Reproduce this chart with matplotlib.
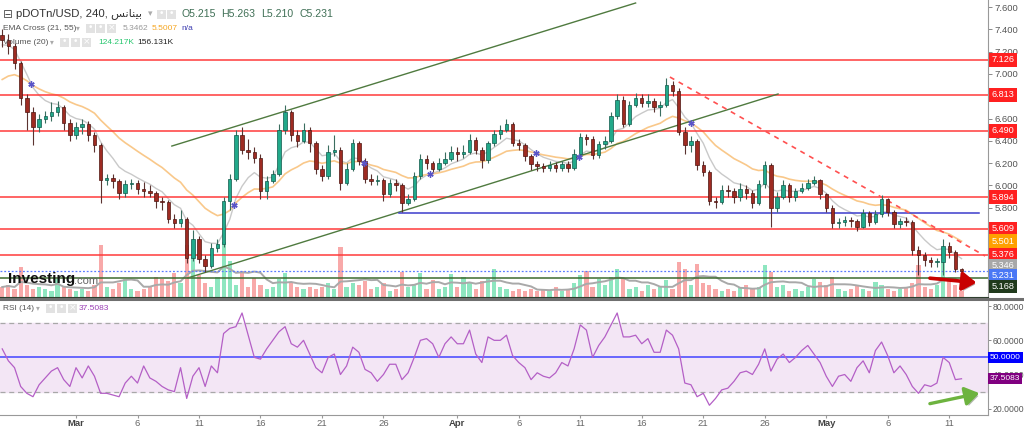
import matplotlib
matplotlib.use('Agg')
import matplotlib.pyplot as plt
import matplotlib.dates as mdates
import matplotlib.patheffects as pe
from matplotlib.patches import Rectangle, FancyArrowPatch
import numpy as np
import pandas as pd

plt.rcParams['font.family'] = ['Liberation Sans', 'DejaVu Sans']

# 12h candles, first candle 2023-02-23 00:00
first_open = 7.35
closes = [7.30, 7.25, 7.10, 6.78, 6.66, 6.52, 6.60, 6.62, 6.66, 6.70,
          6.56, 6.45, 6.52, 6.55, 6.45, 6.36, 6.05, 6.07, 6.04, 5.93,
          6.01, 6.02, 5.97, 5.95, 5.93, 5.86, 5.85, 5.70, 5.66, 5.70,
          5.35, 5.52, 5.34, 5.28, 5.44, 5.47, 5.86, 6.06, 6.45, 6.32,
          6.30, 6.25, 5.95, 6.04, 6.10, 6.50, 6.66, 6.45, 6.40, 6.50,
          6.38, 6.15, 6.08, 6.30, 6.32, 6.02, 6.15, 6.38, 6.22, 6.06,
          6.04, 6.05, 5.92, 6.02, 6.00, 5.84, 5.88, 6.08, 6.24, 6.20,
          6.15, 6.20, 6.24, 6.30, 6.28, 6.30, 6.41, 6.32, 6.23, 6.38,
          6.46, 6.50, 6.55, 6.38, 6.36, 6.26, 6.19, 6.17, 6.16, 6.18,
          6.16, 6.19, 6.16, 6.28, 6.43, 6.42, 6.27, 6.37, 6.40, 6.62,
          6.77, 6.55, 6.72, 6.78, 6.74, 6.76, 6.70, 6.72, 6.90, 6.85,
          6.48, 6.36, 6.40, 6.18, 6.12, 5.86, 5.85, 5.96, 5.95, 5.90,
          5.97, 5.93, 5.84, 6.01, 6.18, 5.80, 5.90, 6.00, 5.90, 5.95,
          5.98, 6.02, 6.05, 5.92, 5.80, 5.66, 5.67, 5.69, 5.68, 5.63,
          5.75, 5.67, 5.74, 5.88, 5.76, 5.65, 5.68, 5.67, 5.42, 5.38,
          5.33, 5.31, 5.31, 5.46, 5.40, 5.25, 5.231]
highs = [7.40, 7.36, 7.28, 7.12, 6.82, 6.70, 6.64, 6.67, 6.75, 6.76,
         6.72, 6.60, 6.57, 6.60, 6.58, 6.48, 6.38, 6.10, 6.10, 6.06,
         6.05, 6.06, 6.05, 6.03, 6.00, 5.95, 5.90, 5.87, 5.74, 5.78,
         5.72, 5.60, 5.55, 5.38, 5.48, 5.52, 5.90, 6.10, 6.50, 6.52,
         6.42, 6.34, 6.28, 6.08, 6.14, 6.55, 6.72, 6.68, 6.50, 6.56,
         6.52, 6.40, 6.18, 6.36, 6.45, 6.34, 6.20, 6.42, 6.40, 6.25,
         6.10, 6.09, 6.07, 6.06, 6.06, 6.02, 5.92, 6.12, 6.28, 6.27,
         6.22, 6.25, 6.30, 6.35, 6.34, 6.36, 6.46, 6.43, 6.34, 6.40,
         6.50, 6.54, 6.60, 6.57, 6.42, 6.38, 6.28, 6.22, 6.20, 6.22,
         6.21, 6.22, 6.22, 6.33, 6.47, 6.46, 6.44, 6.40, 6.44, 6.66,
         6.82, 6.80, 6.76, 6.83, 6.82, 6.82, 6.78, 6.76, 6.96, 6.94,
         6.87, 6.52, 6.44, 6.42, 6.22, 6.14, 5.90, 6.00, 6.00, 5.98,
         6.02, 6.00, 5.96, 6.05, 6.22, 6.20, 5.94, 6.05, 6.02, 5.98,
         6.02, 6.06, 6.08, 6.06, 5.93, 5.82, 5.71, 5.73, 5.72, 5.70,
         5.79, 5.77, 5.78, 5.91, 5.89, 5.78, 5.71, 5.72, 5.69, 5.46,
         5.40, 5.36, 5.35, 5.52, 5.49, 5.42, 5.263]
lows = [7.24, 7.18, 7.04, 6.72, 6.50, 6.36, 6.48, 6.56, 6.58, 6.62,
        6.50, 6.40, 6.42, 6.46, 6.40, 6.30, 5.84, 6.00, 5.98, 5.88,
        5.90, 5.97, 5.92, 5.90, 5.90, 5.80, 5.78, 5.66, 5.62, 5.63,
        5.30, 5.32, 5.30, 5.22, 5.26, 5.40, 5.45, 5.78, 6.04, 6.28,
        6.24, 6.20, 5.88, 5.88, 6.02, 6.08, 6.46, 6.40, 6.34, 6.38,
        6.30, 6.10, 6.04, 6.06, 6.26, 5.96, 6.00, 6.13, 6.18, 6.02,
        6.00, 6.00, 5.86, 5.90, 5.95, 5.76, 5.82, 5.86, 6.06, 6.15,
        6.12, 6.13, 6.18, 6.22, 6.22, 6.25, 6.28, 6.28, 6.16, 6.20,
        6.35, 6.42, 6.48, 6.35, 6.32, 6.22, 6.14, 6.13, 6.12, 6.13,
        6.12, 6.13, 6.12, 6.14, 6.26, 6.36, 6.24, 6.25, 6.33, 6.38,
        6.60, 6.52, 6.53, 6.70, 6.70, 6.70, 6.66, 6.62, 6.70, 6.80,
        6.45, 6.28, 6.30, 6.14, 6.08, 5.82, 5.80, 5.83, 5.90, 5.84,
        5.86, 5.88, 5.80, 5.82, 5.98, 5.63, 5.76, 5.88, 5.85, 5.86,
        5.93, 5.96, 6.00, 5.88, 5.76, 5.62, 5.62, 5.64, 5.63, 5.59,
        5.62, 5.64, 5.65, 5.72, 5.73, 5.62, 5.62, 5.64, 5.38, 5.20,
        5.28, 5.27, 5.27, 5.20, 5.35, 5.22, 5.17]
volumes_k = [200, 240, 160, 600, 240, 160, 200, 160, 120, 360,
             200, 160, 120, 160, 120, 240, 1040, 200, 160, 280,
             360, 160, 120, 160, 200, 400, 360, 320, 480, 280,
             1040, 800, 440, 280, 200, 400, 1100, 720, 240, 520,
             200, 380, 240, 160, 200, 360, 480, 280, 200, 160,
             200, 160, 200, 280, 160, 1000, 200, 280, 240, 320,
             160, 200, 280, 120, 160, 500, 200, 240, 480, 160,
             340, 160, 200, 460, 200, 400, 280, 160, 320, 360,
             560, 200, 160, 120, 160, 120, 160, 120, 160, 120,
             200, 120, 160, 280, 440, 520, 200, 360, 240, 400,
             560, 360, 160, 200, 120, 240, 160, 200, 340, 160,
             700, 560, 240, 660, 280, 240, 160, 120, 160, 120,
             200, 240, 160, 200, 640, 500, 200, 240, 120, 160,
             120, 200, 360, 300, 240, 400, 160, 120, 160, 240,
             160, 120, 300, 240, 160, 120, 160, 200, 280, 640,
             200, 160, 240, 700, 360, 240, 120]
rsi = [55, 48, 44, 33, 29, 27, 34, 38, 42, 44,
       37, 33, 44, 38, 45, 39, 29, 29, 28, 27,
       35, 39, 35, 45, 38, 36, 33, 31, 30, 44,
       26, 39, 44, 33, 45, 41, 64, 67, 68, 76,
       63, 50, 49, 55, 60, 65, 68, 58, 56, 60,
       52, 44, 41, 50, 52, 40, 45, 56, 53, 43,
       41, 36, 40, 46, 46, 37, 41, 50, 60, 61,
       58, 50, 58, 62, 58, 58, 66, 52, 47, 62,
       60, 60, 63, 51, 47, 44, 37, 41, 39, 38,
       41, 47, 45, 55, 69, 66, 50, 57, 62, 69,
       76, 62, 62, 63, 58, 61, 53, 53, 66, 63,
       55, 35, 34, 27, 29, 22, 26, 31, 32, 36,
       41, 42, 40, 46, 55, 42, 49, 52, 47, 50,
       54, 57, 52, 47, 39, 33, 39, 40, 36, 44,
       48, 41, 54, 59, 51, 41, 45, 40, 33, 29,
       34, 33, 35, 50, 47, 37, 37.5083]
ema_fast_start = 7.26
ema_slow_start = 6.95

red_levels = [7.126, 6.813, 6.490, 5.894, 5.609, 5.376]
last_price = 5.231
support_level = 5.168
blue_level = 5.75

tag_values = [7.126, 6.813, 6.490, 5.894, 5.609, 5.501, 5.376, 5.346, 5.231, 5.168]
tag_colors = ['#ff2020', '#ff2020', '#ff2020', '#ff2020', '#ff2020',
              '#ffa000', '#ff2020', '#a8a8a8', '#4a78f5', '#203a1c']

tick_dates = ['2023-03-01', '2023-03-06', '2023-03-11', '2023-03-16', '2023-03-21',
              '2023-03-26', '2023-04-01', '2023-04-06', '2023-04-11', '2023-04-16',
              '2023-04-21', '2023-04-26', '2023-05-01', '2023-05-06', '2023-05-11']
tick_text = ['Mar', '6', '11', '16', '21', '26', 'Apr', '6', '11', '16', '21', '26',
             'May', '6', '11']

W, H = 1024, 429
fig = plt.figure(figsize=(W / 100, H / 100), dpi=100, facecolor='white')


def fx(x):
    return x / W


def fy(y):
    return 1 - y / H


times = pd.date_range('2023-02-23 00:00', periods=len(closes), freq='12h')
t = mdates.date2num(times)
c = np.array(closes)
o = np.array([first_open] + closes[:-1])
hi = np.array(highs)
lo = np.array(lows)
up = c >= o

ax = fig.add_axes([0, fy(297), fx(988), 297 / H])
rax = fig.add_axes([0, fy(415), fx(988), 115 / H], sharex=ax)
vax = ax.twinx()
vax.set_zorder(0)
ax.set_zorder(1)
ax.patch.set_visible(False)

# volume
vol = np.array(volumes_k, dtype=float)
vax.bar(t, vol, width=0.34, color=np.where(up, '#8ee6c0', '#f8a9a9'), zorder=1)
vax.plot(t, pd.Series(vol).rolling(7, min_periods=1).mean(), color='#a9a9a9', lw=1.4)
vax.set_ylim(0, 5940)
vax.set_yticks([])
for s in vax.spines.values():
    s.set_visible(False)

# EMA cross
def ema(vals, span, seed):
    a = 2 / (span + 1)
    out = [seed]
    for v in vals[1:]:
        out.append(a * v + (1 - a) * out[-1])
    return np.array(out)

fast = ema(closes, 7, ema_fast_start)
slow = ema(closes, 18.4, ema_slow_start)
ax.plot(t, fast, color='#c9c9c9', lw=1.0, zorder=2)
ax.plot(t, slow, color='#f9c88a', lw=1.2, zorder=2)
diff = fast - slow
for i in np.where(np.sign(diff[1:]) != np.sign(diff[:-1]))[0]:
    f = diff[i] / (diff[i] - diff[i + 1])
    ax.plot(t[i] + f * (t[i + 1] - t[i]), fast[i] + f * (fast[i + 1] - fast[i]),
            marker=(6, 2, 0), ms=4.5, color='#5a55c8', mew=1.0, zorder=5)

# horizontal levels
for lv in red_levels:
    ax.axhline(lv, color='#ff3a3a', lw=1.1, zorder=2)
ax.axhline(last_price, color='#5a7cff', lw=0.9, ls=(0, (1.5, 1.5)), zorder=2)
ax.axhline(support_level, color='#3d6b30', lw=1.1, zorder=2)

# drawn trend lines
ax.plot(mdates.datestr2num(['2023-03-08 19:00', '2023-04-15 12:00']), [6.353, 7.636],
        color='#4f7a3f', lw=1.0, zorder=2)
ax.plot(mdates.datestr2num(['2023-03-10 02:00', '2023-04-27 02:00']), [5.17, 6.82],
        color='#4f7a3f', lw=1.0, zorder=2)
ax.plot(mdates.datestr2num(['2023-03-27 07:00', '2023-05-13 10:00']), [blue_level, blue_level],
        color='#3c3ccc', lw=1.1, zorder=2)
ax.plot(mdates.datestr2num(['2023-04-18 07:00', '2023-05-13 22:00']), [6.972, 5.367],
        color='#ff5050', lw=1.2, ls=(0, (3, 3)), zorder=2)

# candles
ax.vlines(t[up], lo[up], hi[up], color='#3b6e60', lw=0.8, zorder=3)
ax.vlines(t[~up], lo[~up], hi[~up], color='#5b3330', lw=0.8, zorder=3)
body_lo = np.minimum(o, c)
body_h = np.maximum(np.abs(c - o), 0.008)
ax.bar(t[up], body_h[up], bottom=body_lo[up], width=0.28, color='#22a98a',
       edgecolor='#10584a', lw=0.5, zorder=4)
ax.bar(t[~up], body_h[~up], bottom=body_lo[~up], width=0.28, color='#9e2b22',
       edgecolor='#4d1510', lw=0.5, zorder=4)

# red arrow
arr = FancyArrowPatch((mdates.datestr2num('2023-05-09 05:00'), 5.17),
                      (mdates.datestr2num('2023-05-13 10:30'), 5.125),
                      arrowstyle='-|>,head_length=6,head_width=4', color='#c80000',
                      lw=2.6, mutation_scale=1.4, zorder=6,
                      path_effects=[pe.SimplePatchShadow(offset=(1.5, -1.5), alpha=0.35), pe.Normal()])
ax.add_patch(arr)

ax.set_ylim(4.999, 7.663)
ax.set_xlim(mdates.datestr2num('2023-02-22 19:40'), mdates.datestr2num('2023-05-14 03:40'))
ax.yaxis.tick_right()
price_ticks = [5.8, 6.0, 6.2, 6.4, 6.6, 7.0, 7.2, 7.4, 7.6]
ax.set_yticks(price_ticks)
ax.set_yticklabels(['%.3f' % v for v in price_ticks])
ax.tick_params(axis='y', direction='out', length=3, width=0.6, color='#777',
               labelcolor='#555', labelsize=6.8, pad=2)
ax.tick_params(axis='x', bottom=False, labelbottom=False)
for k in ['top', 'left']:
    ax.spines[k].set_visible(False)
ax.spines['right'].set_color('#999')
ax.spines['bottom'].set_color('#2e3e2e')


def tag(axis, y, text, color, size=6.6, off=2.6):
    axis.annotate(text, xy=(1, y), xycoords=('axes fraction', 'data'), xytext=(off, 0),
                  textcoords='offset points', ha='left', va='center', fontsize=size,
                  color='white', annotation_clip=False, zorder=10,
                  bbox=dict(boxstyle='square,pad=0.25', fc=color, ec='none'))


prev = None
for v, col in zip(tag_values, tag_colors):
    y = v if prev is None else min(v, prev - 0.094)
    tag(ax, y, '%.3f' % v, col)
    prev = y

# RSI pane
rax.axhspan(30, 70, color='#f3e6f5', zorder=0)
rax.axhline(70, color='#a8a8a8', lw=0.9, ls=(0, (4, 3)))
rax.axhline(30, color='#a8a8a8', lw=0.9, ls=(0, (4, 3)))
rax.axhline(50, color='#5050ff', lw=1.2)
rax.plot(t, rsi, color='#b45fc6', lw=0.9, zorder=3)
garr = FancyArrowPatch((mdates.datestr2num('2023-05-09 05:00'), 22.6),
                       (mdates.datestr2num('2023-05-13 16:00'), 29.4),
                       arrowstyle='-|>,head_length=6,head_width=4', color='#6db33f',
                       lw=2.4, mutation_scale=1.4, zorder=6,
                       path_effects=[pe.SimplePatchShadow(offset=(1.5, -1.5), alpha=0.35), pe.Normal()])
rax.add_patch(garr)
rax.set_ylim(16.3, 83.6)
rax.yaxis.tick_right()
rsi_ticks = [20, 40, 60, 80]
rax.set_yticks(rsi_ticks)
rax.set_yticklabels(['%.4f' % v for v in rsi_ticks])
rax.tick_params(axis='y', direction='out', length=2, width=0.6, color='#777',
                labelcolor='#555', labelsize=6.2, pad=1.5)
rax.set_xticks(mdates.datestr2num(tick_dates))
rax.set_xticklabels(tick_text)
rax.tick_params(axis='x', length=2, color='#999', labelsize=6.8, pad=0.8, labelcolor='#666')
for lab in rax.get_xticklabels():
    if lab.get_text() in ('Mar', 'Apr', 'May'):
        lab.set_fontweight('bold')
        lab.set_color('#444')
for k in ['top', 'left']:
    rax.spines[k].set_visible(False)
rax.spines['right'].set_color('#999')
rax.spines['bottom'].set_color('#999')
tag(rax, 50, '50.0000', '#0000ff', size=6.0, off=1.2)
tag(rax, rsi[-1], '%.4f' % rsi[-1], '#800080', size=6.0, off=1.2)

# pane separator
fig.add_artist(plt.Line2D([0, 1], [fy(298.5)] * 2, transform=fig.transFigure,
                          color='#6f6f6f', lw=2.2))

# legend texts
def icons(xs, y, cross_last=True):
    for j, x0 in enumerate(xs):
        fig.add_artist(Rectangle((fx(x0), fy(y + 4.5)), 9 / W, 9 / H, transform=fig.transFigure,
                                 fc='#e2e2e2', ec='none'))
        sym = '×' if (cross_last and j == len(xs) - 1) else '•'
        fig.text(fx(x0 + 4.5), fy(y), sym, fontsize=6.5, color='white', ha='center',
                 va='center', family=['DejaVu Sans'])


arabic = '\ufeb2\ufee7\ufe8e\ufee8\ufef4\ufe91'
fig.text(fx(3), fy(14), '⊟', fontsize=8.5, color='#555', va='center', family=['DejaVu Sans'])
fig.text(fx(16), fy(14), 'pDOTn/USD, 240, ' + arabic, fontsize=8.2, color='#333', va='center')
fig.text(fx(148), fy(14), '▾', fontsize=6.5, color='#aaa', va='center', family=['DejaVu Sans'])
icons([157, 167], 14, cross_last=False)
for x0, s in zip([182, 221, 261, 300], ['O5.215', 'H5.263', 'L5.210', 'C5.231']):
    fig.text(fx(x0), fy(14), s, fontsize=7.6, color='#3f6f55', va='center')

fig.text(fx(3), fy(28), 'EMA Cross (21, 55)', fontsize=6.0, color='#555', va='center')
fig.text(fx(76), fy(28), '▾', fontsize=5.5, color='#aaa', va='center', family=['DejaVu Sans'])
icons([86, 96, 107], 28)
fig.text(fx(123), fy(28), '5.3462', fontsize=6.0, color='#999', va='center')
fig.text(fx(152), fy(28), '5.5007', fontsize=6.0, color='#f5a623', va='center')
fig.text(fx(181), fy(28), 'n/a', fontsize=6.0, color='#3b3bb0', va='center')

fig.text(fx(3), fy(42), 'Volume (20)', fontsize=6.0, color='#555', va='center')
fig.text(fx(50), fy(42), '▾', fontsize=5.5, color='#aaa', va='center', family=['DejaVu Sans'])
icons([60, 71, 82], 42)
fig.text(fx(98), fy(42), '124.217K', fontsize=6.0, color='#28c76f', va='center')
fig.text(fx(137), fy(42), '156.131K', fontsize=6.0, color='#222', va='center')

fig.text(fx(3), fy(308), 'RSI (14)', fontsize=6.0, color='#555', va='center')
fig.text(fx(36), fy(308), '▾', fontsize=5.5, color='#aaa', va='center', family=['DejaVu Sans'])
icons([46, 57, 68], 308)
fig.text(fx(79), fy(308), '37.5083', fontsize=6.0, color='#9b3fb5', va='center')

fig.text(fx(8), fy(279), 'Investing', fontsize=11, fontweight='bold', color='#111', va='center')
fig.text(fx(74), fy(281), '.com', fontsize=8, color='#666', va='center')

fig.savefig('out.png', dpi=100, facecolor='white')
